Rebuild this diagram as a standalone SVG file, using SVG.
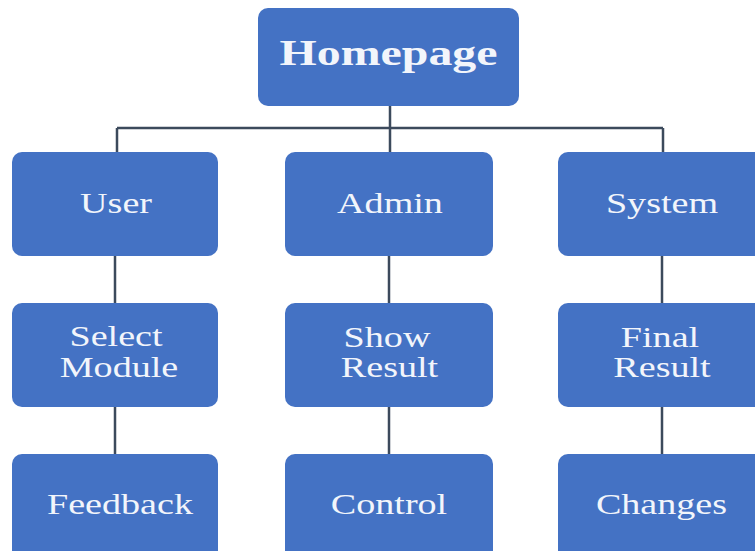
<svg xmlns="http://www.w3.org/2000/svg" width="755" height="551" viewBox="0 0 755 551">
  <style>
    .box { fill: #4472C4; }
    .lbl { fill: #F2F5FB; font-family: "Liberation Serif", "Times New Roman", serif; font-size: 30px; text-anchor: middle; }
    .title { font-weight: bold; font-size: 36px; }
    .wire { stroke: #3C4A5C; stroke-width: 2.5; fill: none; }
  </style>
  <rect width="755" height="551" fill="#FFFFFF"/>

  <!-- connectors -->
  <g id="connectors">
    <path class="wire" d="M390 106 V128 M117 128 H663 M117 128 V152 M390 128 V152 M663 128 V152"/>
    <path class="wire" d="M115 256 V303 M389 256 V303 M662 256 V303"/>
    <path class="wire" d="M115 407 V454 M389 407 V454 M662 407 V454"/>
  </g>

  <!-- labels are set in a wide serif: each is scaled horizontally about its centre -->
  <g id="homepage">
    <rect class="box" x="258" y="8" width="261" height="98" rx="10"/>
    <text class="lbl title" transform="translate(388.5 65) scale(1.33 1)">Homepage</text>
  </g>

  <g id="user">
    <rect class="box" x="12" y="152" width="206" height="104" rx="10"/>
    <text class="lbl" transform="translate(116 213) scale(1.27 1)">User</text>
  </g>
  <g id="admin">
    <rect class="box" x="285" y="152" width="208" height="104" rx="10"/>
    <text class="lbl" transform="translate(390 213) scale(1.27 1)">Admin</text>
  </g>
  <g id="system">
    <rect class="box" x="558" y="152" width="210" height="104" rx="10"/>
    <text class="lbl" transform="translate(662 213) scale(1.27 1)">System</text>
  </g>

  <g id="select-module">
    <rect class="box" x="12" y="303" width="206" height="104" rx="10"/>
    <text class="lbl" transform="translate(116 346) scale(1.27 1)">Select</text>
    <text class="lbl" transform="translate(119 377) scale(1.27 1)">Module</text>
  </g>
  <g id="show-result">
    <rect class="box" x="285" y="303" width="208" height="104" rx="10"/>
    <text class="lbl" transform="translate(387 347) scale(1.27 1)">Show</text>
    <text class="lbl" transform="translate(389.5 377) scale(1.27 1)">Result</text>
  </g>
  <g id="final-result">
    <rect class="box" x="558" y="303" width="210" height="104" rx="10"/>
    <text class="lbl" transform="translate(660 347) scale(1.27 1)">Final</text>
    <text class="lbl" transform="translate(662 377) scale(1.27 1)">Result</text>
  </g>

  <g id="feedback">
    <rect class="box" x="12" y="454" width="206" height="110" rx="10"/>
    <text class="lbl" transform="translate(120 514) scale(1.27 1)">Feedback</text>
  </g>
  <g id="control">
    <rect class="box" x="285" y="454" width="208" height="110" rx="10"/>
    <text class="lbl" transform="translate(389 514) scale(1.27 1)">Control</text>
  </g>
  <g id="changes">
    <rect class="box" x="558" y="454" width="210" height="110" rx="10"/>
    <text class="lbl" transform="translate(661.5 514) scale(1.27 1)">Changes</text>
  </g>
</svg>
